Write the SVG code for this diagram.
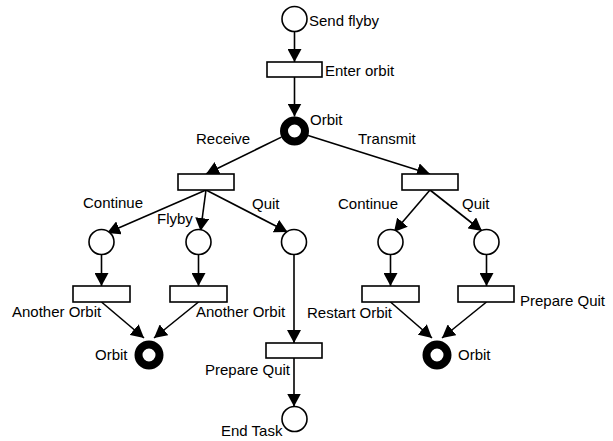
<svg xmlns="http://www.w3.org/2000/svg" width="613" height="441" viewBox="0 0 613 441">
<style>
.pl{fill:#fff;stroke:#000;stroke-width:1.6}
.ring{fill:none;stroke:#000;stroke-width:8}
.tr{fill:#fff;stroke:#000;stroke-width:1.6}
.lb{font-family:"Liberation Sans",Arial,sans-serif;font-size:15px;fill:#000}
.ar{stroke:#000;stroke-width:1.6;fill:none;marker-end:url(#ah)}
</style>
<defs>
<marker id="ah" markerUnits="userSpaceOnUse" markerWidth="14" markerHeight="14" refX="13" refY="7" orient="auto" viewBox="0 0 14 14">
<path d="M0,0 L13,7 L0,14 z" fill="#000"/>
</marker>
</defs>
<rect width="613" height="441" fill="#fff"/>
<g id="connectors">
<line class="ar" x1="294.5" y1="31.5" x2="294.5" y2="62"/>
<line class="ar" x1="294.5" y1="77" x2="294.5" y2="116.5"/>
<line class="ar" x1="281.4" y1="137.1" x2="206" y2="174"/>
<line class="ar" x1="307.3" y1="135.2" x2="430" y2="174"/>
<line class="ar" x1="206" y1="190" x2="107" y2="233"/>
<line class="ar" x1="206" y1="190" x2="200.5" y2="231"/>
<line class="ar" x1="206" y1="190" x2="287.5" y2="232"/>
<line class="ar" x1="430" y1="190" x2="394" y2="232"/>
<line class="ar" x1="430" y1="190" x2="482" y2="231"/>
<line class="ar" x1="101.5" y1="254.5" x2="101.5" y2="286"/>
<line class="ar" x1="198.5" y1="254.5" x2="198.5" y2="286"/>
<line class="ar" x1="390.5" y1="254.5" x2="390.5" y2="286"/>
<line class="ar" x1="486.5" y1="254.5" x2="486.5" y2="286"/>
<line class="ar" x1="294" y1="254.5" x2="294" y2="343"/>
<line class="ar" x1="101.5" y1="302" x2="144" y2="338"/>
<line class="ar" x1="198.5" y1="302" x2="154" y2="338"/>
<line class="ar" x1="390.5" y1="302" x2="432" y2="338"/>
<line class="ar" x1="486.5" y1="302" x2="442" y2="338"/>
<line class="ar" x1="294" y1="358" x2="294" y2="406.5"/>
</g>
<g id="send-flyby"><circle class="pl" cx="294.5" cy="19" r="12.5"/><text class="lb" x="309" y="26">Send flyby</text></g>
<g id="enter-orbit"><rect class="tr" x="267" y="62" width="55" height="15"/><text class="lb" x="325" y="76">Enter orbit</text></g>
<g id="orbit-top"><circle class="ring" cx="294.5" cy="131" r="10.5"/><text class="lb" x="310" y="125">Orbit</text></g>
<g id="receive"><rect class="tr" x="178" y="174" width="56" height="16"/><text class="lb" x="196" y="144">Receive</text></g>
<g id="transmit"><rect class="tr" x="402" y="174" width="56" height="16"/><text class="lb" x="358" y="144">Transmit</text></g>
<g id="continue-l"><circle class="pl" cx="101.5" cy="242" r="12.5"/><text class="lb" x="83" y="208">Continue</text></g>
<g id="flyby"><circle class="pl" cx="198.5" cy="242" r="12.5"/><text class="lb" x="157" y="224">Flyby</text></g>
<g id="quit-l"><circle class="pl" cx="294" cy="242" r="12.5"/><text class="lb" x="252" y="209">Quit</text></g>
<g id="continue-r"><circle class="pl" cx="390.5" cy="242" r="12.5"/><text class="lb" x="338" y="209">Continue</text></g>
<g id="quit-r"><circle class="pl" cx="486.5" cy="242" r="12.5"/><text class="lb" x="462" y="209">Quit</text></g>
<g id="another-orbit-1"><rect class="tr" x="73" y="286" width="57" height="16"/><text class="lb" x="12" y="317">Another Orbit</text></g>
<g id="another-orbit-2"><rect class="tr" x="170" y="286" width="57" height="16"/><text class="lb" x="196" y="317">Another Orbit</text></g>
<g id="restart-orbit"><rect class="tr" x="362" y="286" width="57" height="16"/><text class="lb" x="307" y="318">Restart Orbit</text></g>
<g id="prepare-quit-r"><rect class="tr" x="458" y="286" width="56" height="16"/><text class="lb" x="520" y="306">Prepare Quit</text></g>
<g id="orbit-bl"><circle class="ring" cx="149" cy="355" r="10.5"/><text class="lb" x="95" y="360">Orbit</text></g>
<g id="orbit-br"><circle class="ring" cx="437" cy="355" r="10.5"/><text class="lb" x="458" y="360">Orbit</text></g>
<g id="prepare-quit-m"><rect class="tr" x="266" y="343" width="56" height="15"/><text class="lb" x="205" y="375">Prepare Quit</text></g>
<g id="end-task"><circle class="pl" cx="294.5" cy="419" r="12.5"/><text class="lb" x="221" y="436">End Task</text></g>
</svg>
